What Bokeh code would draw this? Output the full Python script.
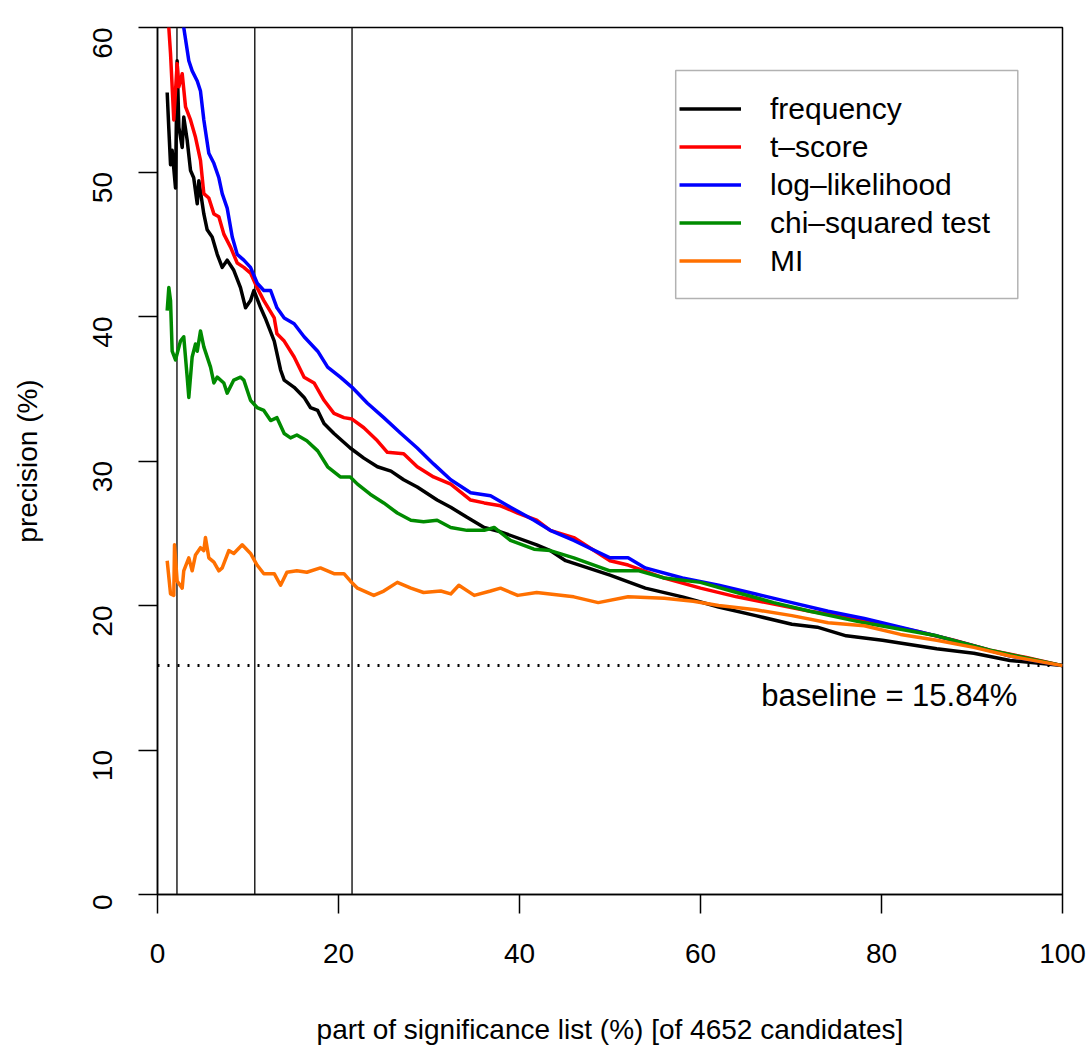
import math
from bokeh.plotting import figure
from bokeh.models import (Span, Label, Legend, LegendItem, BoxAnnotation,
                          FixedTicker, Range1d)
from bokeh.embed import file_html
from bokeh.resources import INLINE

# ---------------- data ----------------
N_CANDIDATES = 4652
BASELINE = 15.84
nbest_marks = [100, 500, 1000]          # n-best cut-offs shown as vertical lines
x_ticks = [0, 20, 40, 60, 80, 100]
y_ticks = [0, 10, 20, 30, 40, 50, 60]

series_names = ["frequency", "t\u2013score", "log\u2013likelihood", "chi\u2013squared test", "MI"]
series_colors = ["#000000", "#FF0000", "#0000FF", "#008B00", "#FF7000"]

freq_x = [1.07, 1.25, 1.44, 1.62, 1.99, 2.17, 2.36, 2.73, 2.9, 3.28, 3.65, 4.0, 4.39, 4.57, 5.12,
          5.49, 6.04, 6.6, 7.15, 7.7, 8.43, 9.17, 9.73, 10.28, 10.65, 11.4, 11.9, 12.9, 13.6, 14.0,
          15.1, 16.2, 16.9, 17.7, 18.4, 19.5, 21.3, 22.8, 24.3, 25.8, 27.2, 28.7, 30.9, 32.4, 34.2,
          36.1, 37.9, 41.9, 43.4, 45.1, 50.0, 53.9, 58.0, 62.0, 66.1, 70.1, 72.9, 76.1, 80.1, 86.1,
          90.2, 94.2, 100.0]
freq_y = [55.5, 53.0, 50.5, 51.5, 48.9, 57.7, 53.1, 51.7, 53.8, 52.2, 50.1, 49.6, 47.8, 49.4, 47.1,
          46.0, 45.5, 44.3, 43.4, 43.9, 43.2, 42.0, 40.6, 41.1, 41.8, 40.6, 39.9, 38.3, 36.3, 35.6,
          35.1, 34.4, 33.7, 33.5, 32.6, 31.9, 30.9, 30.2, 29.6, 29.3, 28.7, 28.2, 27.3, 26.8, 26.1,
          25.4, 25.1, 24.2, 23.8, 23.1, 22.1, 21.2, 20.6, 19.9, 19.3, 18.7, 18.5, 17.9, 17.6, 17.0,
          16.7, 16.2, 15.84]

tscore_x = [1.07, 1.25, 1.44, 1.8, 2.17, 2.36, 2.73, 3.1, 3.65, 4.2, 4.75, 5.12, 5.67, 6.23, 6.78,
            7.33, 8.07, 8.81, 9.54, 10.28, 11.0, 11.75, 12.9, 13.2, 14.0, 15.1, 16.2, 17.3, 18.4,
            19.5, 20.6, 21.5, 22.8, 24.3, 25.4, 27.2, 28.7, 30.5, 32.4, 34.6, 36.1, 37.9, 39.8,
            41.9, 43.4, 46.0, 50.0, 52.0, 56.0, 60.0, 64.0, 68.1, 72.1, 76.1, 80.1, 84.0, 88.0,
            92.0, 96.0, 100.0]
tscore_y = [64.0, 60.0, 58.2, 53.6, 57.5, 55.9, 56.8, 54.5, 53.6, 52.4, 50.8, 48.5, 48.2, 47.1, 46.9,
            45.7, 44.8, 43.7, 43.4, 43.0, 42.0, 41.1, 39.9, 38.8, 38.3, 37.2, 35.8, 35.4, 34.2,
            33.3, 33.0, 32.9, 32.3, 31.4, 30.6, 30.5, 29.6, 28.9, 28.4, 27.3, 27.1, 26.9, 26.4,
            25.9, 25.2, 24.7, 23.1, 22.8, 21.9, 21.2, 20.6, 20.1, 19.6, 19.2, 18.7, 18.2, 17.6,
            16.9, 16.4, 15.84]

loglik_x = [1.07, 2.0, 2.9, 3.46, 3.83, 4.39, 4.75, 5.12, 5.67, 6.23, 6.78, 7.15, 7.7, 8.26, 8.81,
            9.54, 10.28, 11.02, 11.75, 12.5, 13.2, 14.0, 15.1, 16.2, 17.7, 18.8, 20.2, 21.5, 23.2,
            25.0, 26.9, 28.7, 30.5, 32.4, 34.6, 36.8, 39.0, 41.6, 43.4, 46.0, 50.0, 52.0, 53.9,
            58.0, 62.0, 66.1, 70.1, 74.1, 78.1, 82.1, 86.1, 90.2, 94.2, 100.0]
loglik_y = [70.0, 64.0, 60.0, 57.7, 57.0, 56.3, 55.6, 53.6, 51.3, 50.6, 49.6, 48.5, 47.5, 45.5, 44.3,
            43.9, 43.4, 42.3, 41.8, 41.8, 40.6, 39.9, 39.5, 38.6, 37.6, 36.5, 35.8, 35.1, 34.0,
            33.0, 31.9, 30.9, 29.8, 28.7, 27.8, 27.6, 26.8, 25.9, 25.2, 24.5, 23.3, 23.3, 22.6,
            21.9, 21.4, 20.8, 20.2, 19.6, 19.1, 18.5, 17.9, 17.2, 16.5, 15.84]

chisq_x = [1.07, 1.25, 1.44, 1.62, 1.99, 2.54, 2.9, 3.28, 3.46, 3.83, 4.2, 4.39, 4.75, 5.12, 5.86,
           6.23, 6.6, 7.33, 7.7, 8.43, 9.17, 9.54, 10.28, 11.0, 11.75, 12.5, 13.2, 14.0, 14.7, 15.4,
           16.5, 17.7, 18.8, 20.2, 21.3, 22.1, 23.5, 25.0, 26.5, 28.0, 29.4, 30.9, 32.4, 34.2, 36.1,
           37.2, 39.0, 41.6, 43.4, 46.0, 50.0, 53.2, 56.0, 60.0, 64.0, 68.1, 72.1, 78.1, 86.1, 92.0,
           100.0]
chisq_y = [40.4, 42.0, 41.1, 37.6, 37.0, 38.3, 38.6, 35.8, 34.4, 37.2, 38.1, 37.6, 39.0, 37.9, 36.5,
           35.4, 35.8, 35.4, 34.7, 35.6, 35.8, 35.6, 34.2, 33.7, 33.5, 32.8, 33.0, 31.9, 31.6, 31.8,
           31.4, 30.7, 29.6, 28.9, 28.9, 28.4, 27.7, 27.1, 26.4, 25.9, 25.8, 25.9, 25.4, 25.2, 25.2,
           25.4, 24.5, 23.9, 23.8, 23.3, 22.4, 22.4, 21.9, 21.6, 20.9, 20.2, 19.6, 18.8, 17.9, 16.9,
           15.84]

mi_x = [1.07, 1.44, 1.8, 1.88, 2.17, 2.73, 2.9, 3.46, 3.83, 4.2, 4.75, 5.12, 5.3, 5.67, 6.23, 6.78,
        7.15, 7.88, 8.43, 9.36, 10.28, 11.0, 11.75, 12.9, 13.6, 14.3, 15.4, 16.5, 18.0, 19.5, 20.6,
        21.3, 22.1, 23.9, 25.0, 26.5, 28.0, 29.4, 31.3, 32.4, 33.3, 35.0, 36.8, 37.9, 39.8, 41.9,
        46.0, 48.7, 52.0, 56.0, 59.2, 62.0, 66.1, 70.1, 74.1, 78.1, 82.1, 86.1, 90.2, 94.2, 100.0]
mi_y = [23.1, 20.8, 20.7, 24.2, 21.7, 21.2, 22.4, 23.3, 22.4, 23.5, 24.0, 23.8, 24.7, 23.3, 23.0, 22.4,
        22.6, 23.8, 23.6, 24.2, 23.6, 22.8, 22.2, 22.2, 21.4, 22.3, 22.4, 22.3, 22.6, 22.2, 22.2,
        21.7, 21.2, 20.7, 21.0, 21.6, 21.2, 20.9, 21.0, 20.8, 21.4, 20.7, 21.0, 21.2, 20.7, 20.9,
        20.6, 20.2, 20.6, 20.5, 20.3, 20.0, 19.7, 19.3, 18.8, 18.6, 18.0, 17.6, 17.1, 16.5, 15.84]

series_x = [freq_x, tscore_x, loglik_x, chisq_x, mi_x]
series_y = [freq_y, tscore_y, loglik_y, chisq_y, mi_y]

# ---------------- figure ----------------
FONT = "Liberation Sans"

p = figure(frame_width=905, frame_height=867,
           x_range=Range1d(0, 100), y_range=Range1d(0, 60),
           output_backend="svg", toolbar_location=None,
           min_border_left=157, min_border_top=27,
           min_border_right=30, min_border_bottom=152,
           background_fill_color="white", border_fill_color="white")

p.grid.visible = False
p.outline_line_color = "black"
p.outline_line_width = 1.5

for ax in (p.xaxis[0], p.yaxis[0]):
    ax.axis_line_color = "black"
    ax.axis_line_width = 1.5
    ax.major_tick_line_color = "black"
    ax.major_tick_line_width = 1.5
    ax.major_tick_out = 19
    ax.major_tick_in = 0
    ax.minor_tick_line_color = None
    ax.major_label_text_font = FONT
    ax.major_label_text_font_size = "28px"
    ax.major_label_text_color = "black"
    ax.axis_label_text_font = FONT
    ax.axis_label_text_font_size = "28px"
    ax.axis_label_text_font_style = "normal"
    ax.axis_label_text_color = "black"

p.xaxis.ticker = FixedTicker(ticks=x_ticks)
p.yaxis.ticker = FixedTicker(ticks=y_ticks)
p.xaxis.axis_label = "part of significance list (%%) [of %d candidates]" % N_CANDIDATES
p.yaxis.axis_label = "precision (%)"
p.xaxis.major_label_standoff = 30
p.xaxis.axis_label_standoff = 48
p.yaxis.major_label_orientation = math.pi / 2
p.yaxis.major_label_standoff = 36
p.yaxis.axis_label_standoff = 38

# vertical n-best markers
for n in nbest_marks:
    p.add_layout(Span(location=100.0 * n / N_CANDIDATES, dimension="height",
                      line_color="#222222", line_width=1.5, level="underlay"))

# baseline
p.add_layout(Span(location=BASELINE, dimension="width", line_color="black",
                  line_width=3, line_dash="2 8", level="underlay"))
p.add_layout(Label(x=95, y=BASELINE - 2.07, text="baseline = %.2f%%" % BASELINE,
                   text_align="right", text_baseline="middle",
                   text_font=FONT, text_font_size="31px", text_color="black"))

renderers = []
for xs, ys, col in zip(series_x, series_y, series_colors):
    r = p.line(xs, ys, line_color=col, line_width=3.5, line_join="round")
    renderers.append(r)

# legend box
p.add_layout(BoxAnnotation(left=57.26, right=95.06, top=57.02, bottom=41.25,
                           fill_color="white", fill_alpha=1.0,
                           line_color="black", line_width=1.5, level="annotation"))

legend = Legend(items=[LegendItem(label=n, renderers=[r]) for n, r in zip(series_names, renderers)],
                location=(502, 596), padding=20, spacing=3, margin=0,
                glyph_width=62, glyph_height=35, label_height=35, label_standoff=29,
                label_text_font=FONT, label_text_font_size="30px", label_text_color="black",
                border_line_alpha=0, background_fill_alpha=0)
p.add_layout(legend)

open("out.html", "w").write(file_html(p, INLINE))
